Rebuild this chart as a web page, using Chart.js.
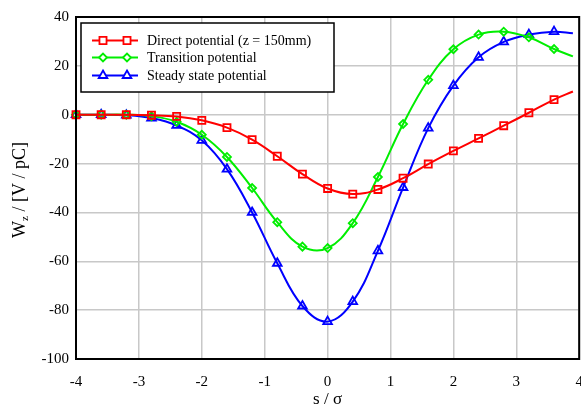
<!DOCTYPE html>
<html><head><meta charset="utf-8">
<script src="https://cdn.jsdelivr.net/npm/chart.js@4/dist/chart.umd.min.js"></script>
<style>html,body{margin:0;padding:0;background:#fff;overflow:hidden}#wrap{width:581px;height:410px;overflow:hidden}canvas{display:block}</style>
</head><body><div id="wrap"><canvas id="c" width="586" height="410"></canvas></div>
<script>
const sValues = [-4,-3.6,-3.2,-2.8,-2.4,-2.0,-1.6,-1.2,-0.8,-0.4,0,0.4,0.8,1.2,1.6,2.0,2.4,2.8,3.2,3.6,3.9];
const directPotential = [0,0,0,-0.2,-0.7,-2.3,-5.3,-10.2,-17,-24.3,-30.2,-32.5,-30.6,-26,-20.2,-14.8,-9.7,-4.5,0.8,6.2,9.5];
const transitionPotential = [0,0,0,-0.6,-2.9,-8.2,-17.3,-30,-44,-54,-54.6,-44.4,-25.5,-3.8,14.3,26.8,32.8,34,31.7,26.9,23.9];
const steadyPotential = [0,0,-0.2,-1.4,-4.4,-10.5,-22.3,-40,-60.8,-78.3,-84.7,-76.5,-55.7,-29.8,-5.5,11.9,23.5,29.8,32.8,34,33.3];
const seriesLabels = ['Direct potential (z = 150mm)','Transition potential','Steady state potential'];
const xTicks = [-4,-3,-2,-1,0,1,2,3,4];
const yTicks = [-100,-80,-60,-40,-20,0,20,40];

const FONT = "'Liberation Serif', 'Times New Roman', serif";
const pts = (arr) => arr.map((v,i)=>({x:sValues[i], y:v}));
const radii = (r) => sValues.map((v,i)=> i===sValues.length-1 ? 0 : r);

function ds(label, data, color, style, r){
  return {label, data: pts(data), borderColor: color, backgroundColor: '#fff',
    borderWidth: 2, pointStyle: style, pointRadius: radii(r), pointBorderWidth: 1.8,
    pointBorderColor: color, pointBackgroundColor: 'rgba(255,255,255,0)', tension: 0.4, clip: false, _r: r};
}

const frame = {
  id:'frame',
  afterDatasetsDraw(chart){
    const {ctx, chartArea:a} = chart;
    ctx.save();
    ctx.strokeStyle = '#000'; ctx.lineWidth = 2;
    ctx.strokeRect(a.left, a.top, a.right-a.left, a.bottom-a.top);
    ctx.restore();
  },
  afterDraw(chart){
    const {ctx, chartArea:a} = chart;
    ctx.save();
    const bx=81, by=23, bw=253, bh=69;
    ctx.fillStyle='#fff'; ctx.fillRect(bx,by,bw,bh);
    ctx.strokeStyle='#000'; ctx.lineWidth=1.5; ctx.strokeRect(bx,by,bw,bh);
    const rows=[40.5,57.5,75.5];
    chart.data.datasets.forEach((d,i)=>{
      const y=rows[i];
      ctx.strokeStyle=d.borderColor; ctx.lineWidth=2;
      ctx.beginPath(); ctx.moveTo(92,y); ctx.lineTo(138,y); ctx.stroke();
      ctx.lineWidth=1.8; ctx.fillStyle='#fff';
      [103,127].forEach(x=>{
        Chart.helpers.drawPoint(ctx,{pointStyle:d.pointStyle, radius:d._r, borderWidth:1.8, rotation:0}, x, y);
      });
      ctx.fillStyle='#000'; ctx.font='14px '+FONT; ctx.textBaseline='middle'; ctx.textAlign='left';
      ctx.fillText(d.label,147,y+1);
    });
    ctx.translate(19, (a.top+a.bottom)/2 + 2);
    ctx.rotate(-Math.PI/2);
    ctx.fillStyle='#000'; ctx.textBaseline='alphabetic'; ctx.textAlign='left';
    const big='18px '+FONT, small='11px '+FONT;
    ctx.font=big; const w1=ctx.measureText('W').width;
    ctx.font=small; const w2=ctx.measureText('z').width;
    ctx.font=big; const rest=' / [V / pC]'; const w3=ctx.measureText(rest).width;
    const total=w1+w2+w3; let x=-total/2; const base=6;
    ctx.font=big; ctx.fillText('W',x,base); x+=w1;
    ctx.font=small; ctx.fillText('z',x,base+3); x+=w2;
    ctx.font=big; ctx.fillText(rest,x,base);
    ctx.restore();
  }
};

new Chart(document.getElementById('c'), {
  type:'line',
  data:{datasets:[
    ds(seriesLabels[0], directPotential, '#ff0000', 'rect', 5),
    ds(seriesLabels[1], transitionPotential, '#00ee00', 'rectRot', 4),
    ds(seriesLabels[2], steadyPotential, '#0000ff', 'triangle', 5)
  ]},
  options:{
    responsive:false, animation:false, devicePixelRatio:1,
    layout:{padding:{top:17,right:2,left:0,bottom:0}},
    plugins:{legend:{display:false}, tooltip:{enabled:false}},
    scales:{
      x:{type:'linear', min:-4, max:4,
        afterBuildTicks:(s)=>{s.ticks=xTicks.map(v=>({value:v}));},
        afterFit:(s)=>{s.height=51; s.paddingRight=0; s.paddingLeft=0;},
        grid:{color:'#c8c8c8', lineWidth:1.5, drawTicks:false},
        border:{display:false},
        ticks:{color:'#000', font:{family:FONT,size:15}, padding:14, maxRotation:0},
        title:{display:true, text:'s / σ', color:'#000', font:{family:FONT,size:17}, padding:{top:4,bottom:0}}
      },
      y:{type:'linear', min:-100, max:40,
        afterBuildTicks:(s)=>{s.ticks=yTicks.map(v=>({value:v}));},
        afterFit:(s)=>{s.width=76; s.paddingTop=0; s.paddingBottom=0;},
        grid:{color:'#c8c8c8', lineWidth:1.5, drawTicks:false},
        border:{display:false},
        ticks:{color:'#000', font:{family:FONT,size:15}, padding:7}
      }
    }
  },
  plugins:[frame]
});
</script></body></html>
